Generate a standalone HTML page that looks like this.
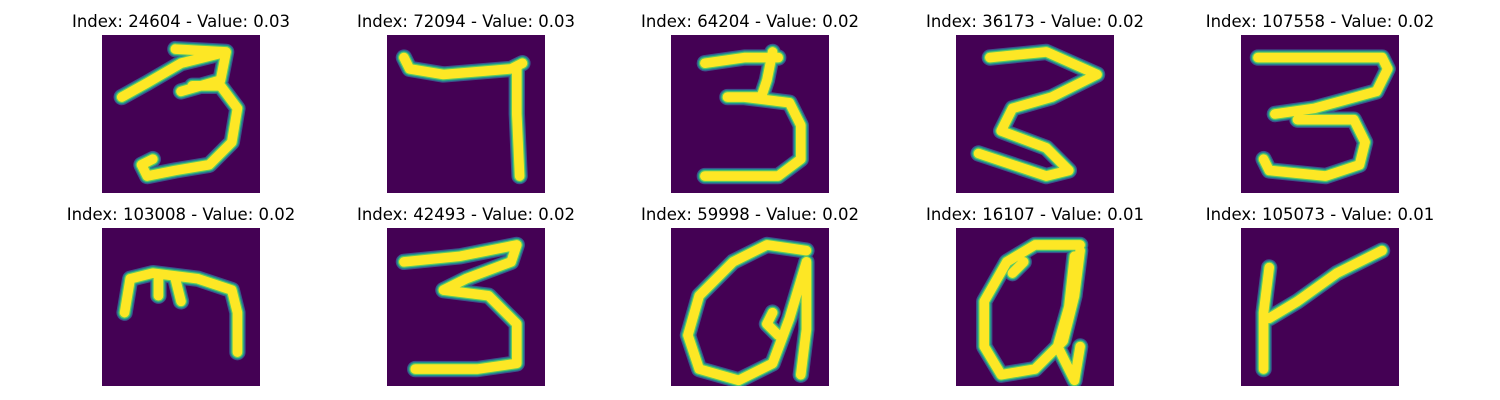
<!DOCTYPE html>
<html><head><meta charset="utf-8">
<style>
body{margin:0;background:#fff;width:1500px;height:400px;overflow:hidden;font-family:"DejaVu Sans","Liberation Sans",sans-serif}
.cell{position:absolute;width:260px;text-align:center;font-size:16.5px;color:#000}
.cell svg{position:absolute;width:158px;height:158px}
</style></head><body>
<div id="root"></div>
<script>
const indices=[24604,72094,64204,36173,107558,103008,42493,59998,16107,105073];
const values=["0.03","0.03","0.02","0.02","0.02","0.02","0.02","0.02","0.01","0.01"];
const digitPaths=[
"M3.5,11 L8,8.5 L14,5 L22,3 M13,2.5 L22,3 L21,8 L14,10 M16,9 L21,9 L24,13 L23,19 L19,23 L13,24 L8,25 L7,23 L9,22",
"M3,4 L4,6 L10,7 L22,6 L24,5 M23,6 L23,14 L23.5,25",
"M6,5 L13,4 L19,4 M18,3 L17,8 L16,11 L10,11 M13,11 L21,12 L23,16 L23,22 L19,25 L6,25",
"M6,4 L16,3 L25,7 L17,11 L10,13 L8,17 L16,20 L20,24 L16,25 L4,21",
"M3,4 L25,4 L26,6 L24,10 L13,13 L6,14 M10,15 L20,15 L22,19 L21,23 L15,25 L5,24 L4,22",
"M4,15 L5,9 L9,8 L17,9 L23,11 L24,15 L24,22 M13,9 L14,13 M10,9 L10,12",
"M3,6 L13,5 L23,3 L22,6 L14,9 L10,11 M10,11 L18,12 L23,17 L23,24 L16,25 L5,25",
"M24,4 L17,3 L11,6 L5,12 L3,19 L5,25 L12,27 L18,24 L21,16 L24,6 L24,18 L23,26 M18,15 L17,17 L19,19",
"M22,3 L14,3 L9,6 L5,13 L5,21 L8,26 L14,25 L19,20 L21,12 L22,4 M21,5 L20,14 L18,21 L21,27 L22,21 M10,8 L12,6",
"M5,7 L4,15 L4,25 M5,16 L10,13 L17,8 L25,4"
];
const root=document.getElementById('root');
const colX=[102,387,671,956,1241], rowY=[35,228];
for(let i=0;i<indices.length;i++){
  const c=i%5,r=Math.floor(i/5);
  const cell=document.createElement('div');
  cell.className='cell';
  
  
  cell.style.left=(colX[c]+79-130)+'px';
  cell.style.top=(rowY[r]-25)+'px';
  const t=document.createElement('div');
  
  
  t.style.cssText='position:absolute;left:0;width:260px;top:2px;line-height:20px;';
  t.textContent='Index: '+indices[i]+' - Value: '+values[i];
  cell.appendChild(t);
  const ns='http://www.w3.org/2000/svg';
  const s=document.createElementNS(ns,'svg');
  s.setAttribute('viewBox','0 0 28 28');
  s.setAttribute('preserveAspectRatio','none');
  
  
  s.style.left='51px';s.style.top='25px';
  const bg=document.createElementNS(ns,'rect');
  bg.setAttribute('width','28');bg.setAttribute('height','28');bg.setAttribute('fill','#440154');
  s.appendChild(bg);
  [['#3b528b',2.9],['#21918c',2.5],['#5ec962',2.1],['#fde725',1.7]].forEach(([col,w])=>{
    const p=document.createElementNS(ns,'path');
    p.setAttribute('d',digitPaths[i]);
    p.setAttribute('fill','none');p.setAttribute('stroke',col);p.setAttribute('stroke-width',w);
    p.setAttribute('stroke-linecap','round');p.setAttribute('stroke-linejoin','round');
    s.appendChild(p);
  });
  cell.appendChild(s);
  root.appendChild(cell);
}
</script>
</body></html>
